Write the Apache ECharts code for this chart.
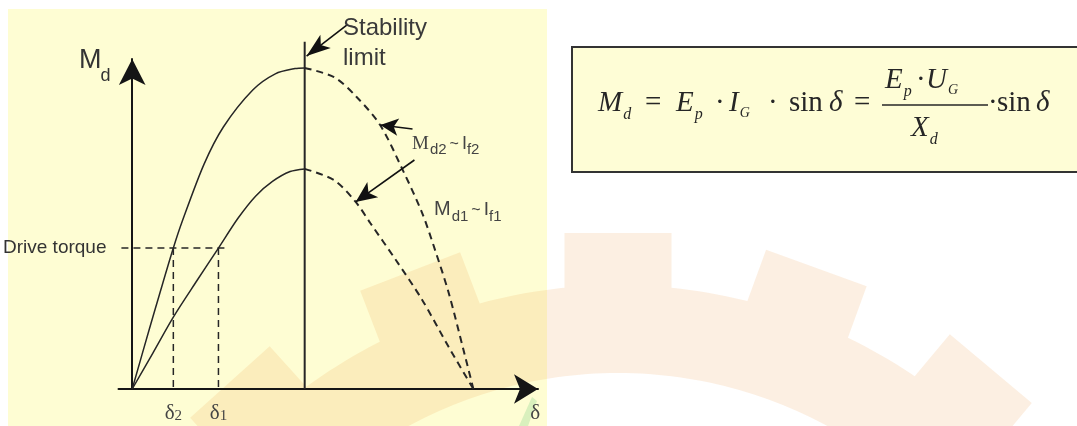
<!DOCTYPE html>
<html>
<head>
<meta charset="utf-8">
<title>Torque - load angle characteristic</title>
<script src="https://cdn.jsdelivr.net/npm/echarts@6/dist/echarts.min.js"></script>
<style>
  html, body { margin: 0; padding: 0; background: #ffffff; }
  #chart { width: 1077px; height: 426px; }
</style>
</head>
<body>
<div id="chart"></div>
<script>
// Load angle delta (deg) and torque M (relative units)
const upperSolidDelta = [0, 9.2, 14.3, 21.7, 26.4, 37.8, 48.1, 63.6, 75.5, 85.9, 91];
const upperSolidTorque = [0, 18.5, 28.5, 42.7, 50.8, 68, 79.4, 90.6, 95.5, 97.1, 97.3];
const upperDashDelta = [91, 106.5, 118.4, 130.8, 142.7, 153, 159.8, 167, 174.8, 180];
const upperDashTorque = [97.3, 94.5, 88.5, 80, 66.4, 53.3, 42.1, 29.1, 11.8, 0];

const lowerSolidDelta = [0, 10.9, 21.7, 34.1, 45.5, 55.9, 65.2, 74, 83.3, 91];
const lowerSolidTorque = [0, 10.9, 21.8, 32.8, 42.7, 51.8, 58.5, 62.9, 65.9, 66.7];
const lowerDashDelta = [91, 106.5, 117.9, 125.6, 139.1, 153, 167, 180];
const lowerDashTorque = [66.7, 63.3, 56.7, 50.3, 39.1, 27, 12.7, 0];

// Marked values
const DRIVE_TORQUE = 42.7;
const DELTA_2 = 21.7;
const DELTA_1 = 45.5;
const STABILITY_DELTA = 91;
const STABILITY_TOP = 105.2;
const DRIVE_LINE = [-5.7, 49.6];
const DELTA_AXIS_LABEL = 212.6;

// Annotation arrows [from, tip, head size] in data units
const stabilityArrow = [[113.2, 110.3], [92.0, 100.9]];
const pointerArrows = [
    [[147.9, 78.8], [130.9, 80.0], [13, 18]],    // Md2 ~ If2
    [[148.9, 69.4], [117.9, 56.7], [14, 21]]     // Md1 ~ If1
];

const SERIF = 'Liberation Serif';
const SANS = 'Liberation Sans';
const INK = '#262626';

const zip = (xs, ys) => xs.map((x, i) => [x, ys[i]]);

// Lay out a run of text pieces on a common baseline
const measureCtx = document.createElement('canvas').getContext('2d');
function textRun(pieces, baseY, color) {
    const els = [];
    let cursor = 0;
    pieces.forEach(p => {
        const family = p.family || SERIF;
        const fontStyle = p.it ? 'italic' : 'normal';
        measureCtx.font = `${fontStyle} ${p.size}px "${family}"`;
        const x = p.x !== undefined ? p.x : cursor + (p.gap || 0);
        cursor = x + measureCtx.measureText(p.t).width;
        const base = baseY + (p.dy || 0);
        els.push({
            type: 'text', x: x, y: base - 0.34 * p.size, z: 20,
            style: {
                text: p.t, fill: color || INK, fontSize: p.size, fontFamily: family,
                fontStyle: fontStyle, align: 'left', verticalAlign: 'middle'
            }
        });
    });
    return els;
}

// Watermark gear outline (decoration only)
const gearTeeth = [-84, -63, -42, -21, 0, 20, 40, 60, 80];
function gearPoints() {
    const cx = 618, cy = 813, rIn = 440, rRoot = 528, rTip = 580, hw = 53.5;
    const P = (r, a) => {
        const t = a * Math.PI / 180;
        return [cx + r * Math.sin(t), cy - r * Math.cos(t)];
    };
    const phi = Math.asin(hw / rRoot) * 180 / Math.PI;
    const pts = [];
    let a = -100;
    gearTeeth.forEach(th => {
        for (; a < th - phi; a += 1) pts.push(P(rRoot, a));
        pts.push(P(rRoot, th - phi));
        const t = th * Math.PI / 180;
        const ux = Math.sin(t), uy = -Math.cos(t), vx = Math.cos(t), vy = Math.sin(t);
        pts.push([cx + ux * rTip - vx * hw, cy + uy * rTip - vy * hw]);
        pts.push([cx + ux * rTip + vx * hw, cy + uy * rTip + vy * hw]);
        pts.push(P(rRoot, th + phi));
        a = th + phi;
    });
    for (; a <= 100; a += 1) pts.push(P(rRoot, a));
    for (a = 100; a >= -100; a -= 1) pts.push(P(rIn, a));
    return pts;
}

// Filled notched arrow head with its tip at (x, y)
function arrowHead(x, y, fromX, fromY, w, h) {
    const len = Math.hypot(x - fromX, y - fromY);
    const dx = (x - fromX) / len, dy = (y - fromY) / len;
    const px = -dy, py = dx;
    return [
        [x, y],
        [x - dx * h + px * w / 2, y - dy * h + py * w / 2],
        [x - dx * h * 0.75, y - dy * h * 0.75],
        [x - dx * h - px * w / 2, y - dy * h - py * w / 2]
    ];
}

const F = 29, FS = 16, FG = 14;
const formulaMain = [
    { t: 'M', x: 598, it: 1, size: F }, { t: 'd', it: 1, size: FS, dy: 7, gap: 1 },
    { t: '=', x: 645, size: F },
    { t: 'E', x: 676, it: 1, size: F }, { t: 'p', it: 1, size: FS, dy: 7, gap: 1 },
    { t: '·', x: 715, size: F },
    { t: 'I', x: 729, it: 1, size: F }, { t: 'G', it: 1, size: FG, dy: 5, gap: 1 },
    { t: '·', x: 768, size: F },
    { t: 'sin', x: 789, size: F },
    { t: 'δ', x: 829, it: 1, size: F },
    { t: '=', x: 854, size: F },
    { t: '·', x: 988, size: F },
    { t: 'sin', x: 997, size: F },
    { t: 'δ', x: 1036, it: 1, size: F }
];
const formulaNum = [
    { t: 'E', x: 885, it: 1, size: F }, { t: 'p', it: 1, size: FS, dy: 7, gap: 1 },
    { t: '·', x: 916, size: F },
    { t: 'U', x: 926, it: 1, size: F }, { t: 'G', it: 1, size: FG, dy: 5, gap: 1 }
];
const formulaDen = [
    { t: 'X', x: 911, it: 1, size: F }, { t: 'd', it: 1, size: FS, dy: 7, gap: 1 }
];

const graphics = [
    { type: 'rect', z: -20, shape: { x: 8, y: 9, width: 539, height: 420 }, style: { fill: '#fefdd3' } },
    { type: 'polygon', z: -15, shape: { points: gearPoints() }, style: { fill: 'rgba(236,150,60,0.15)' } },
    { type: 'polygon', z: -14, shape: { points: [[519, 426], [532, 397], [537, 401], [528, 426]] }, style: { fill: 'rgba(150,215,150,0.35)' } },
    { type: 'rect', z: -10, shape: { x: 572, y: 47, width: 520, height: 125 }, style: { fill: '#fefdd6', stroke: '#333', lineWidth: 2 } },
    { type: 'line', z: 20, shape: { x1: 882, y1: 105, x2: 988, y2: 105 }, style: { stroke: INK, lineWidth: 1.3 } }
].concat(
    textRun(formulaMain, 113),
    textRun(formulaNum, 90),
    textRun(formulaDen, 138),
    textRun([{ t: 'M', x: 79, size: 27, family: SANS }, { t: 'd', size: 18, family: SANS, dy: 12, gap: -1 }], 70, '#333'),
    textRun([{ t: 'Stability', x: 343, size: 24, family: SANS }], 37, '#3a3a3a'),
    textRun([{ t: 'limit', x: 343, size: 24, family: SANS }], 67, '#3a3a3a'),
    textRun([
        { t: 'M', x: 412, size: 19 }, { t: 'd2', size: 15, family: SANS, dy: 5, gap: 1 },
        { t: '~', size: 16, family: SANS, gap: 3 }, { t: 'I', size: 18, family: SANS, gap: 3 },
        { t: 'f2', size: 15, family: SANS, dy: 5 }
    ], 150, '#444'),
    textRun([
        { t: 'M', x: 434, size: 20, family: SANS }, { t: 'd1', size: 15, family: SANS, dy: 6, gap: 1 },
        { t: '~', size: 16, family: SANS, gap: 3 }, { t: 'I', size: 19, family: SANS, gap: 3 },
        { t: 'f1', size: 15, family: SANS, dy: 6 }
    ], 216, '#444')
);

const solidLine = { color: INK, width: 1.5 };
const dashLine = { color: INK, width: 2, type: [7, 5] };
const helperLine = { color: INK, width: 1.5, type: [7, 5] };

const option = {
    animation: false,
    backgroundColor: '#ffffff',
    grid: { left: 110, right: 539, top: 59, bottom: 37 },
    xAxis: {
        type: 'value', min: -7.24, max: 214.1,
        splitLine: { show: false },
        axisTick: { show: false },
        axisLine: {
            onZero: true, symbol: ['none', 'arrow'], symbolSize: [22, 24],
            lineStyle: { color: '#151515', width: 2 }
        },
        axisLabel: {
            customValues: [DELTA_2, DELTA_1, DELTA_AXIS_LABEL],
            margin: 13,
            formatter: v => Math.abs(v - DELTA_2) < 0.01 ? '{d|δ}{s|2}'
                : Math.abs(v - DELTA_1) < 0.01 ? '{d|δ}{s|1}' : '{d|δ}',
            rich: {
                d: { fontFamily: SERIF, fontSize: 21, color: '#444', lineHeight: 22 },
                s: { fontFamily: SERIF, fontSize: 15, color: '#444', lineHeight: 14, verticalAlign: 'bottom' }
            }
        }
    },
    yAxis: {
        type: 'value', min: 0, max: 100,
        splitLine: { show: false },
        axisTick: { show: false },
        axisLine: {
            onZero: true, symbol: ['none', 'arrow'], symbolSize: [20, 26],
            lineStyle: { color: '#151515', width: 2 }
        },
        axisLabel: {
            customValues: [DRIVE_TORQUE],
            margin: 12,
            formatter: () => 'Drive torque',
            fontFamily: SANS, fontSize: 19, color: '#333'
        }
    },
    graphic: graphics,
    series: [
        { type: 'line', data: zip(upperSolidDelta, upperSolidTorque), showSymbol: false, smooth: 0.3, lineStyle: solidLine },
        { type: 'line', data: zip(lowerSolidDelta, lowerSolidTorque), showSymbol: false, smooth: 0.3, lineStyle: solidLine },
        { type: 'line', data: zip(upperDashDelta, upperDashTorque), showSymbol: false, smooth: 0.3, lineStyle: dashLine },
        { type: 'line', data: zip(lowerDashDelta, lowerDashTorque), showSymbol: false, smooth: 0.3, lineStyle: dashLine },
        { type: 'line', clip: false, showSymbol: false, lineStyle: { color: INK, width: 2 },
          data: [[STABILITY_DELTA, 0], [STABILITY_DELTA, STABILITY_TOP]] },
        { type: 'line', showSymbol: false, lineStyle: helperLine,
          data: [[DRIVE_LINE[0], DRIVE_TORQUE], [DRIVE_LINE[1], DRIVE_TORQUE]] },
        { type: 'line', showSymbol: false, lineStyle: helperLine, data: [[DELTA_2, DRIVE_TORQUE], [DELTA_2, 0]] },
        { type: 'line', showSymbol: false, lineStyle: helperLine, data: [[DELTA_1, DRIVE_TORQUE], [DELTA_1, 0]] },
        {
            type: 'line', clip: false, data: [],
            markLine: {
                silent: true, symbol: ['none', 'arrow'],
                label: { show: false },
                lineStyle: { color: '#111', width: 1.6, type: 'solid' },
                data: pointerArrows.map(([from, to, size]) => [{ coord: from }, { coord: to, symbolSize: size }])
            }
        }
    ]
};

const chart = echarts.init(document.getElementById('chart'));
chart.setOption(option);

// Stability-limit pointer lies above the axis range, so place it through the grid's scale
const [sx, sy] = chart.convertToPixel({ gridIndex: 0 }, stabilityArrow[0]);
const [tx, ty] = chart.convertToPixel({ gridIndex: 0 }, stabilityArrow[1]);
chart.setOption({
    graphic: graphics.concat([
        { type: 'line', z: 15, shape: { x1: sx, y1: sy, x2: tx, y2: ty }, style: { stroke: '#111', lineWidth: 1.6 } },
        { type: 'polygon', z: 16, shape: { points: arrowHead(tx, ty, sx, sy, 17, 24) }, style: { fill: '#111' } }
    ])
});
</script>
</body>
</html>
